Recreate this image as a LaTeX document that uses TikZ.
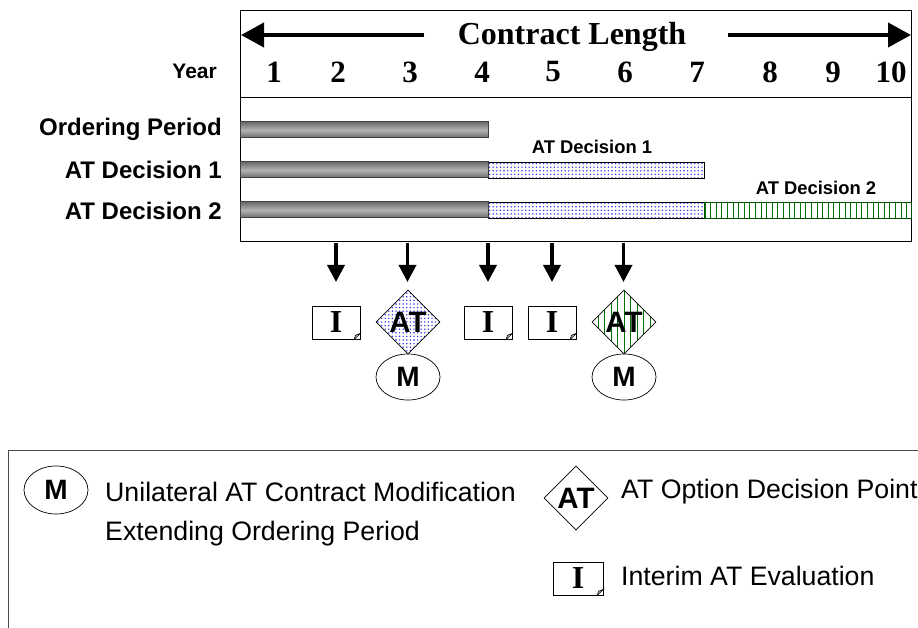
\documentclass[tikz,border=0pt]{standalone}
\usepackage{fontspec}
\setmainfont{Liberation Sans}
\newfontfamily\timesfont{Liberation Serif}
\usetikzlibrary{arrows.meta}
\usetikzlibrary{calc}
\usetikzlibrary{shapes.geometric}
\usetikzlibrary{patterns.meta}
\definecolor{dotblue}{RGB}{50,50,235}
\newcommand{\fsz}[1]{\fontsize{#1}{#1}\selectfont}
\tikzset{
	number/.style={font=\timesfont\bfseries\fsz{31}},
	rowlabel/.style={anchor=east, inner sep=0pt, font=\bfseries\fsz{24}},
	barlabel/.style={font=\bfseries\fsz{18.4}},
	legendtext/.style={anchor=west, inner sep=0pt, font=\fsz{26.7}},
	graybar/.style={draw=black!75, line width=1pt, top color=black!58, bottom color=black!58, middle color=black!30},
	dotfill/.style={pattern={Dots[radius=.8pt,distance=3.6pt]}, pattern color=dotblue},
	dotbar/.style={draw=black, line width=.7pt, dotfill},
	linebar/.style={draw=black!70!green, line width=.7pt},
	greenline/.style={green!45!black, line width=1pt},
	longarrow/.style={-{Triangle[length=23pt,width=24pt]}, line width=4pt},
	downarrow/.style={-{Triangle[length=17pt,width=17pt]}, line width=3.5pt},
	ibox/.style={draw, fill=white, line width=.7pt, minimum width=48pt, minimum height=33pt, inner sep=0pt, font=\timesfont\bfseries\fsz{32}},
	atdiamond/.style={diamond, draw, line width=.7pt, minimum width=64pt, minimum height=64pt, inner sep=0pt, font=\bfseries\fsz{29.5}},
	mellipse/.style={ellipse, draw, line width=.7pt, minimum width=64pt, minimum height=46pt, inner sep=0pt, font=\bfseries\fsz{28}},
}
\begin{document}
\begin{tikzpicture}[x=1pt, y=-1pt]
	\useasboundingbox (0,0) rectangle (918,628);
	% chart frame
	\draw[line width=.8pt] (240,10) rectangle (911,241);
	\draw[line width=.8pt] (240,97) -- (911,97);
	% header
	\node (title) at (572,37) [font=\timesfont\bfseries\fsz{32}] {Contract Length};
	\coordinate (arrowl) at (424,35);
	\coordinate (tipl) at (241,35);
	\coordinate (arrowr) at (728,35);
	\coordinate (tipr) at (911,35);
	\draw[longarrow] (arrowl) -- (tipl);
	\draw[longarrow] (arrowr) -- (tipr);
	\foreach \n/\x in {1/274,2/338,3/410,4/482,5/553,6/625,7/697,8/770,9/833,10/891}
		\node (y\n) at (\x,72) [number] {\n};
	% rows
	\node (year) at (217,71) [rowlabel, font=\bfseries\fsz{21}] {Year};
	\node (ordering) at (222,129) [rowlabel] {Ordering Period};
	\node (decision1) at (222,170) [rowlabel] {AT Decision 1};
	\node (decision2) at (222,211) [rowlabel] {AT Decision 2};
	% bars
	\draw[dotbar] (488,162) rectangle (704,178);
	\draw[dotbar] (488,202) rectangle (704,218);
	\draw[linebar] (704,202) rectangle (911,218);
	\foreach \x in {0,...,36}
		\draw[greenline] (705+\x*5.6,202) -- (705+\x*5.6,218);
	\draw[graybar] (240,122) rectangle (488,138);
	\draw[graybar] (240,162) rectangle (488,178);
	\draw[graybar] (240,202) rectangle (488,218);
	\node (label1) at (592,147) [barlabel] {AT Decision 1};
	\node (label2) at (816,188) [barlabel] {AT Decision 2};
	% events
	\node (i1) at (336,322.5) [ibox] {I};
	\node (i2) at (488,322.5) [ibox] {I};
	\node (i3) at (552,322.5) [ibox] {I};
	\node (at1) at (408,322) [atdiamond, dotfill] {AT};
	\node (at2) at (624,322) [atdiamond, path picture={
		\foreach \x in {-4,...,4}
			\draw[greenline] ($(path picture bounding box.center)+(\x*6.5,-34)$) -- ($(path picture bounding box.center)+(\x*6.5,34)$);
	}] {AT};
	\node (m1) at (408,377) [mellipse] {M};
	\node (m2) at (624,377) [mellipse] {M};
	\foreach \n/\x in {a/336,b/407.5,c/488,d/552,e/623.5} {
		\coordinate (s\n) at (\x,243);
		\coordinate (t\n) at (\x,282);
		\draw[downarrow] (s\n) -- (t\n);
	}
	% legend
	\draw[line width=.6pt, black!70] (918,450) -- (8,450) -- (8,628);
	\node (mkey) at (56,490) [mellipse, minimum height=48pt] {M};
	\node (atkey) at (576,498) [atdiamond] {AT};
	\node (ikey) at (578,578.5) [ibox, minimum width=50pt] {I};
	\node (mtext) at (105,492) [legendtext] {Unilateral AT Contract Modification};
	\node (mtext2) at (105,534) [legendtext] {Extending Ordering Period};
	\node (attext) at (621,492) [legendtext] {AT Option Decision Point};
	\node (itext) at (621,576) [legendtext] {Interim AT Evaluation};
	% folded corners
	\foreach \n in {i1,i2,i3,ikey}
		\draw[line width=.6pt, fill=black!25] ($(\n.south east)+(-6,0)$) -- ($(\n.south east)+(0,-6)$) -- ($(\n.south east)+(-5,-4)$) -- cycle;
\end{tikzpicture}
\end{document}
